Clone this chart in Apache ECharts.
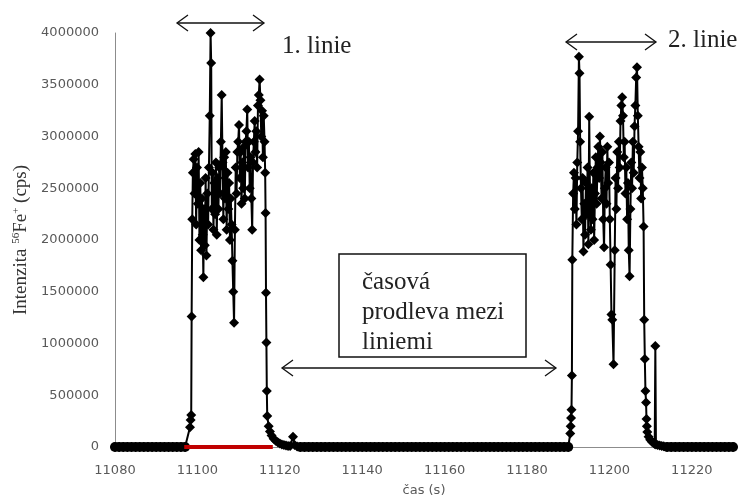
<!DOCTYPE html>
<html>
<head>
<meta charset="utf-8">
<script src="https://cdn.jsdelivr.net/npm/echarts/dist/echarts.min.js"></script>
<style>
  html,body{margin:0;padding:0;background:#fff;}
  #chart{width:741px;height:502px;}
</style>
</head>
<body>
<div id="chart"></div>
<script>
  // background level (value 0) before / between / after the two lines
  var base0 = [11080,11081,11082,11083,11084,11085,11086,11087,11088,11089,11090,11091,11092,11093,11094,11095,11096,11097]
  var base1 = [11125,11126,11127,11128,11129,11130,11131,11132,11133,11134,11135,11136,11137,11138,11139,11140,
               11141,11142,11143,11144,11145,11146,11147,11148,11149,11150,11151,11152,11153,11154,11155,11156,
               11157,11158,11159,11160,11161,11162,11163,11164,11165,11166,11167,11168,11169,11170,11171,11172,
               11173,11174,11175,11176,11177,11178,11179,11180,11181,11182,11183,11184,11185,11186,11187,11188,
               11189,11190]
  var base2 = [11214,11215,11216,11217,11218,11219,11220,11221,11222,11223,11224,11225,11226,11227,11228,11229,11230]

  // 1. linie  [cas, intenzita]
  var line1 = [
    [11098.2,190000],[11098.35,260000],[11098.5,310000],[11098.6,1260000],[11098.75,2200000],[11098.9,2650000],
    [11099.1,2780000],[11099.3,2450000],[11099.5,2830000],[11099.7,2150000],[11099.9,2700000],[11100.1,2350000],
    [11100.3,2850000],[11100.5,2000000],[11100.7,2550000],[11100.9,1900000],[11101.1,2400000],[11101.3,2050000],
    [11101.45,1640000],[11101.6,2300000],[11101.8,1950000],[11102.0,2600000],[11102.2,1850000],[11102.4,2450000],
    [11102.6,2150000],[11102.8,2700000],[11103.0,3200000],[11103.2,4000000],[11103.35,3710000],[11103.5,2300000],
    [11103.7,2650000],[11103.9,2100000],[11104.1,2550000],[11104.3,2250000],[11104.5,2750000],[11104.7,2050000],
    [11104.9,2600000],[11105.1,2300000],[11105.3,2700000],[11105.5,2450000],[11105.7,2950000],[11105.9,3400000],
    [11106.1,2750000],[11106.3,2200000],[11106.5,2800000],[11106.7,2400000],[11106.9,2850000],[11107.1,2100000],
    [11107.3,2650000],[11107.5,2300000],[11107.7,2550000],[11107.9,2000000],[11108.1,2400000],[11108.3,2150000],
    [11108.5,1800000],[11108.7,1500000],[11108.9,1200000],[11109.1,2100000],[11109.3,2700000],[11109.5,2450000],
    [11109.7,2850000],[11109.9,2950000],[11110.1,3110000],[11110.3,2600000],[11110.5,2850000],[11110.7,2350000],
    [11110.9,2750000],[11111.1,2500000],[11111.3,2900000],[11111.5,2400000],[11111.7,2950000],[11111.9,3050000],
    [11112.1,3260000],[11112.3,2700000],[11112.5,2950000],[11112.7,2500000],[11112.9,2800000],[11113.1,2400000],
    [11113.3,2100000],[11113.5,2750000],[11113.7,2950000],[11113.9,3150000],[11114.1,2850000],[11114.3,3050000],
    [11114.5,2700000],[11114.7,3300000],[11114.9,3400000],[11115.1,3550000],[11115.3,3350000],[11115.5,3000000],
    [11115.7,3250000],[11115.9,2800000],[11116.1,3200000],[11116.3,2950000],[11116.45,2650000],[11116.55,2260000],
    [11116.65,1490000],[11116.75,1010000],[11116.85,540000],[11116.95,300000]
  ]
  var tail1 = [
    [11117.3,200000],[11117.6,150000],[11118.0,110000],[11118.5,80000],[11119.0,60000],[11119.5,45000],
    [11120.0,35000],[11120.5,25000],[11121.0,20000],[11121.5,15000],[11122.0,10000],[11122.5,10000],
    [11123.2,100000],[11123.6,20000],[11124.2,5000]
  ]

  // 2. linie
  var line2 = [
    [11190.5,130000],[11190.6,200000],[11190.7,280000],[11190.8,360000],[11190.9,690000],[11191.0,1810000],
    [11191.2,2450000],[11191.4,2650000],[11191.6,2300000],[11191.8,2600000],[11192.0,2150000],[11192.2,2750000],
    [11192.4,3050000],[11192.6,3770000],[11192.75,3610000],[11192.9,2950000],[11193.1,2500000],[11193.3,2200000],
    [11193.5,2600000],[11193.7,1890000],[11193.9,2350000],[11194.1,2050000],[11194.3,2550000],[11194.5,2250000],
    [11194.7,2700000],[11194.9,1960000],[11195.1,3190000],[11195.3,2400000],[11195.5,2100000],[11195.7,2500000],
    [11195.9,2200000],[11196.1,2650000],[11196.3,2000000],[11196.5,2450000],[11196.7,2800000],[11196.9,2350000],
    [11197.1,2700000],[11197.3,2900000],[11197.5,2600000],[11197.7,3000000],[11197.9,2750000],[11198.1,2400000],
    [11198.3,2850000],[11198.5,2200000],[11198.7,1930000],[11198.9,2500000],[11199.1,2700000],[11199.3,2350000],
    [11199.5,2900000],[11199.7,2550000],[11199.9,2750000],[11200.1,2200000],[11200.3,1760000],[11200.5,1280000],
    [11200.7,1230000],[11201.0,800000],[11201.3,1900000],[11201.5,2600000],[11201.7,2300000],[11201.9,2850000],
    [11202.1,2500000],[11202.3,2950000],[11202.5,2700000],[11202.7,3150000],[11202.9,3300000],[11203.1,3380000],
    [11203.3,3200000],[11203.5,2800000],[11203.7,2950000],[11203.9,2450000],[11204.1,2700000],[11204.3,2200000],
    [11204.5,2550000],[11204.7,1900000],[11204.9,1650000],[11205.1,2300000],[11205.3,2750000],[11205.5,2500000],
    [11205.7,2950000],[11205.9,2650000],[11206.1,3100000],[11206.3,3300000],[11206.5,3570000],[11206.7,3670000],
    [11206.9,3200000],[11207.1,2900000],[11207.3,2600000],[11207.5,2850000],[11207.7,2400000],[11207.9,2700000],
    [11208.1,2500000],[11208.3,2130000],[11208.45,1230000],[11208.6,850000],[11208.75,540000],[11208.9,430000]
  ]
  var tail2 = [
    [11209.0,270000],[11209.1,200000],[11209.2,145000],[11209.5,100000],[11209.9,70000],[11210.3,50000],
    [11210.7,40000],[11211.0,30000],[11211.15,975000],[11211.3,25000],[11211.7,20000],[11212.2,15000],
    [11212.7,10000],[11213.2,8000]
  ]

  // red mark under the 1st line
  var redSpan = [11096.8, 11118.3]

  var zeroPts = function (arr) {
    return arr.map(function (t) { return [t, 0] })
  }
  var zeros = [].concat(zeroPts(base0), zeroPts(base1), zeroPts(base2))
  var seriesData = [].concat(
    zeroPts(base0), line1, tail1, zeroPts(base1), line2, tail2, zeroPts(base2)
  )

  var serif = '"Liberation Serif", "Times New Roman", serif'

  // double headed arrow
  function arrow (x1, x2, y) {
    var st = { stroke: '#111', lineWidth: 1.3, fill: null }
    return {
      type: 'group',
      children: [
        { type: 'line', shape: { x1: x1, y1: y, x2: x2, y2: y }, style: st },
        { type: 'polyline', shape: { points: [[x1 + 11, y - 8], [x1, y], [x1 + 11, y + 8]] }, style: st },
        { type: 'polyline', shape: { points: [[x2 - 11, y - 8], [x2, y], [x2 - 11, y + 8]] }, style: st }
      ]
    }
  }
  function label (txt, x, y) {
    return { type: 'text', left: x, top: y, style: { text: txt, font: '25px ' + serif, fill: '#222' } }
  }

  var chart = echarts.init(document.getElementById('chart'))
  chart.setOption({
    animation: false,
    backgroundColor: '#fff',
    grid: { left: 115, right: 8, top: 33, bottom: 54, containLabel: false },
    xAxis: {
      type: 'value',
      min: 11080,
      max: 11230,
      interval: 20,
      name: 'čas (s)',
      nameLocation: 'middle',
      nameGap: 37,
      nameTextStyle: { fontFamily: 'DejaVu Sans', fontSize: 13, color: '#595959' },
      axisLine: { show: true, lineStyle: { color: '#8c8c8c', width: 1 } },
      axisTick: { show: false },
      splitLine: { show: false },
      axisLabel: {
        margin: 17,
        fontFamily: 'DejaVu Sans',
        fontSize: 13,
        color: '#595959',
        formatter: function (v) { return (v - 11080) % 20 === 0 ? String(v) : '' }
      }
    },
    yAxis: {
      type: 'value',
      min: 0,
      max: 4000000,
      interval: 500000,
      name: 'Intenzita {sup|56}Fe{sup|+} (cps)',
      nameLocation: 'middle',
      nameGap: 83,
      nameTextStyle: {
        fontFamily: serif, fontSize: 19, color: '#333',
        rich: { sup: { fontFamily: serif, fontSize: 11, color: '#333', padding: [0, 0, 9, 0] } }
      },
      axisLine: { show: true, lineStyle: { color: '#8c8c8c', width: 1 } },
      axisTick: { show: false },
      splitLine: { show: false },
      axisLabel: {
        margin: 16, fontFamily: 'DejaVu Sans', fontSize: 13, color: '#595959',
        formatter: function (v) { return String(v) }
      }
    },
    series: [
      {
        type: 'line',
        data: seriesData,
        symbol: 'diamond',
        symbolSize: 10,
        showAllSymbol: true,
        itemStyle: { color: '#000' },
        lineStyle: { color: '#000', width: 2 },
        z: 2
      },
      {
        // background points as round dots, they merge into one band
        type: 'scatter',
        data: zeros,
        symbol: 'circle',
        symbolSize: 10,
        itemStyle: { color: '#000', opacity: 1 },
        z: 3
      },
      {
        type: 'line',
        data: [[redSpan[0], 0], [redSpan[1], 0]],
        symbol: 'none',
        lineStyle: { color: '#c00000', width: 4 },
        z: 4
      }
    ],
    graphic: [
      arrow(177, 264, 23),
      label('1. linie', 282, 34),
      arrow(566, 656, 42),
      label('2. linie', 668, 28),
      {
        type: 'rect',
        shape: { x: 339, y: 254, width: 187, height: 103 },
        style: { fill: '#fff', stroke: '#111', lineWidth: 1.5 }
      },
      {
        type: 'text', left: 362, top: 267,
        style: { text: 'časová\nprodleva mezi\nliniemi', font: '25px ' + serif, lineHeight: 30, fill: '#222' }
      },
      arrow(282, 556, 368)
    ]
  })
</script>
</body>
</html>
